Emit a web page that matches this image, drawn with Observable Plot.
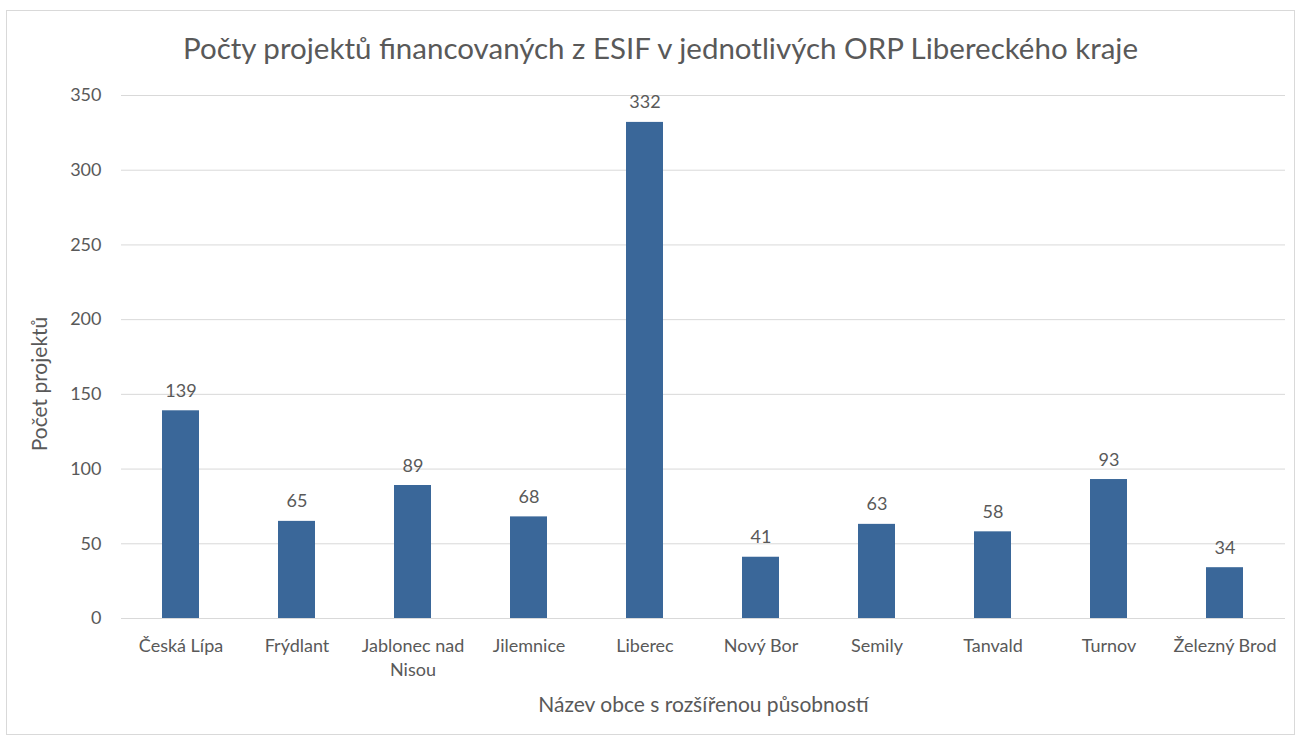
<!DOCTYPE html>
<html>
<head>
<meta charset="utf-8">
<script src="https://cdn.jsdelivr.net/npm/d3@7"></script>
<script src="https://cdn.jsdelivr.net/npm/@observablehq/plot@0.6"></script>
<style>
  html, body { margin: 0; padding: 0; background: #fff; }
  #wrap { position: relative; width: 1301px; height: 740px; }
  #border { position: absolute; left: 6px; top: 10px; width: 1287px; height: 723px; border: 1px solid #d9d9d9; }
  #chart { position: absolute; left: 0; top: 0; }
</style>
</head>
<body>
<div id="wrap"><div id="border"></div><div id="chart"></div></div>
<script>
const categories = ["Česká Lípa", "Frýdlant", "Jablonec nad Nisou", "Jilemnice", "Liberec", "Nový Bor", "Semily", "Tanvald", "Turnov", "Železný Brod"];
const values = [139, 65, 89, 68, 332, 41, 63, 58, 93, 34];
const tickLabels = ["Česká Lípa", "Frýdlant", "Jablonec nad\nNisou", "Jilemnice", "Liberec", "Nový Bor", "Semily", "Tanvald", "Turnov", "Železný Brod"];
const yTicks = [0, 50, 100, 150, 200, 250, 300, 350];
const title = "Počty projektů financovaných z ESIF v jednotlivých ORP Libereckého kraje";
const xTitle = "Název obce s rozšířenou působností";
const yTitle = "Počet projektů";

const data = categories.map((c, i) => ({category: c, value: values[i]}));
const labelOf = new Map(categories.map((c, i) => [c, tickLabels[i]]));
const font = "Lato, 'Open Sans', sans-serif";
const textColor = "#595959";

const chart = Plot.plot({
  width: 1301,
  height: 740,
  marginLeft: 121,
  marginRight: 16,
  marginTop: 95,
  marginBottom: 122,
  style: {fontFamily: font, fontSize: "18px", color: textColor, background: "transparent"},
  x: {domain: categories, paddingInner: 0.68, paddingOuter: 0.34, label: null},
  y: {domain: [0, 350], label: null},
  marks: [
    Plot.ruleY(yTicks, {stroke: "#d9d9d9", strokeWidth: 1}),
    Plot.barY(data, {x: "category", y: "value", fill: "#3a6799"}),
    Plot.text(data, {x: "category", y: "value", text: d => String(d.value), lineAnchor: "bottom", dy: -14, fontSize: 18, fill: textColor}),
    Plot.axisY({ticks: yTicks, tickSize: 0, tickPadding: 20, fontSize: 18, fill: textColor, label: null}),
    Plot.axisX({tickSize: 0, tickPadding: 17, tickFormat: d => labelOf.get(d), fontSize: 18, fill: textColor, label: null, lineHeight: 1.3}),
    Plot.text([title], {frameAnchor: "top", lineAnchor: "middle", dy: -46, dx: -43, text: d => d, fontSize: 29.5, fill: textColor}),
    Plot.text([xTitle], {frameAnchor: "bottom", dy: 93, text: d => d, fontSize: 21, fill: textColor}),
    Plot.text([yTitle], {frameAnchor: "left", textAnchor: "middle", dx: -81, dy: 27, rotate: -90, text: d => d, fontSize: 21, fill: textColor})
  ]
});
document.getElementById("chart").appendChild(chart);
</script>
</body>
</html>
